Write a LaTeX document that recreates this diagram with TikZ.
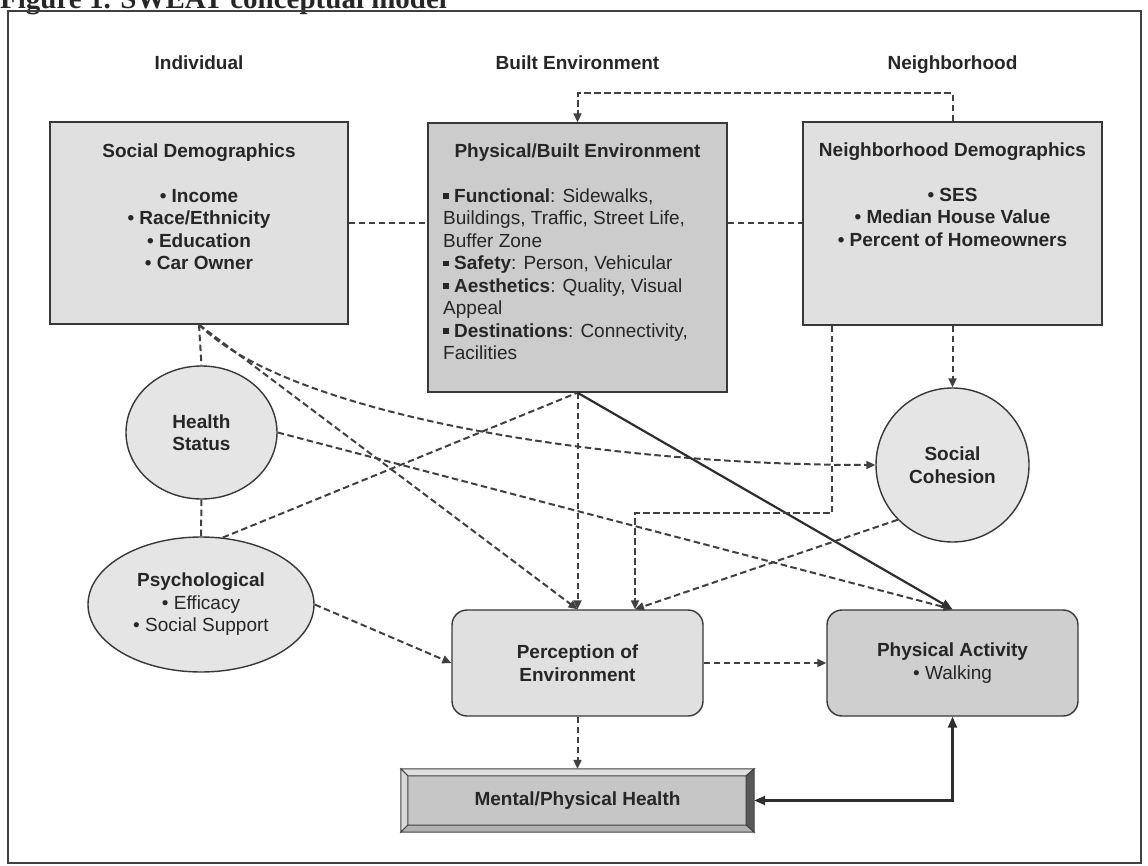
\documentclass[tikz,border=0pt]{standalone}
\usepackage{fontspec}
\setmainfont{Liberation Sans}
\newfontfamily\capfont{Liberation Serif}
\usetikzlibrary{arrows.meta,shapes.geometric}

\newcommand{\sqbul}{\rule[0.18em]{0.3em}{0.3em}}

\begin{document}
\begin{tikzpicture}[x=1pt,y=-1pt,
  every node/.style={text=black!85,font=\fontsize{19}{22.5}\selectfont},
  bold/.style={font=\fontsize{19}{22.5}\selectfont\bfseries},
  hdr/.style={bold,anchor=base},
  sqbox/.style={draw=black!78,line width=1.4pt,fill=gray!24,inner sep=0pt},
  boxtxt/.style={anchor=north,align=center,inner sep=0pt},
  oval/.style={ellipse,draw=black!78,line width=1.4pt,fill=gray!20,inner sep=0pt,align=center},
  rbox/.style={rectangle,rounded corners=15pt,draw=black!78,line width=1.4pt,fill=gray!24,inner sep=0pt,align=center,minimum width=251pt,minimum height=106pt},
  dline/.style={draw=black!75,line width=2pt,dash pattern=on 6.5pt off 3.5pt},
  darr/.style={dline,-{Triangle[length=9pt,width=8pt]}},
  sarr/.style={draw=black!82,line width=2.2pt,-{Triangle[length=11pt,width=9pt]}}
]
\useasboundingbox (0,0) rectangle (1148,866);

% caption and frame
\node[anchor=base west,inner sep=0pt,font=\fontsize{29}{33}\selectfont\capfont\bfseries] (capt) at (0,9) {Figure 1. SWEAT conceptual model};
\draw[draw=black!75,line width=1.2pt] (8,11) rectangle (1141,863);

% column headers
\node[hdr] (hind) at (199,70) {Individual};
\node[hdr] (hbuilt) at (577.5,70) {Built Environment};
\node[hdr] (hnbr) at (952.5,70) {Neighborhood};

% top row
\node[sqbox,minimum width=298pt,minimum height=202pt] (soc) at (199,223) {};
\node[boxtxt,bold] (soctxt) at (199,143.2) {Social Demographics\\[22.5pt]• Income\\• Race/Ethnicity\\• Education\\• Car Owner};

\node[sqbox,fill=gray!40,minimum width=299pt,minimum height=269pt] (bld) at (577.5,257.5) {};
\node[boxtxt,bold] (bldttl) at (577.5,143.2) {Physical/Built Environment};
\node[boxtxt,anchor=north west,align=left] (bldlst) at (443,188.2) {\sqbul\ \textbf{Functional}: Sidewalks,\\Buildings, Traffic, Street Life,\\Buffer Zone\\\sqbul\ \textbf{Safety}: Person, Vehicular\\\sqbul\ \textbf{Aesthetics}: Quality, Visual\\Appeal\\\sqbul\ \textbf{Destinations}: Connectivity,\\Facilities};

\node[sqbox,minimum width=299pt,minimum height=203pt] (nbr) at (952.5,223.5) {};
\node[boxtxt,bold] (nbrtxt) at (952.5,142.2) {Neighborhood Demographics\\[22.5pt]• SES\\• Median House Value\\• Percent of Homeowners};

% ovals
\node[oval,bold,minimum width=151pt,minimum height=133pt] (hlth) at (201.5,432.5) {Health\\Status};
\node[oval,minimum width=226pt,minimum height=135pt] (psy) at (201,604.5) {\textbf{Psychological}\\• Efficacy\\• Social Support};
\node[oval,bold,minimum width=153pt,minimum height=154pt] (scoh) at (952.5,465) {Social\\Cohesion};

% outcomes
\node[rbox,bold] (perc) at (577.5,663) {Perception of\\Environment};
\node[rbox,fill=gray!38] (pa) at (952.5,663) {\textbf{Physical Activity}\\• Walking};
\node[rectangle,bold,fill=gray!45,inner sep=0pt,minimum width=353pt,minimum height=63pt] (mnt) at (577.5,800.5) {Mental/Physical Health};
\filldraw[fill=gray!25,draw=black!75,line width=1pt] (mnt.north west) -- (mnt.north east) -- ([shift={(-8,7)}]mnt.north east) -- ([shift={(7,7)}]mnt.north west) -- cycle;
\filldraw[fill=gray!30,draw=black!75,line width=1pt] (mnt.north west) -- ([shift={(7,7)}]mnt.north west) -- ([shift={(7,-7)}]mnt.south west) -- (mnt.south west) -- cycle;
\filldraw[fill=black!65,draw=black!75,line width=1pt] (mnt.north east) -- (mnt.south east) -- ([shift={(-8,-7)}]mnt.south east) -- ([shift={(-8,7)}]mnt.north east) -- cycle;
\filldraw[fill=gray!60,draw=black!75,line width=1pt] (mnt.south west) -- ([shift={(7,-7)}]mnt.south west) -- ([shift={(-8,-7)}]mnt.south east) -- (mnt.south east) -- cycle;

% links between the three columns
\draw[dline] (soc.east) -- (soc.east -| bld.west);
\draw[dline] (nbr.west -| bld.east) -- (nbr.west);
\draw[darr] (nbr.north) -- ++(0,-28) -| (bld.north);

% individual side
\draw[dline] (soc.south) -- (hlth.north);
\draw[dline] (hlth.south) -- (psy.north);
\draw[darr] (soc.south) .. controls (290,415) and (600,465) .. (scoh.west);
\draw[darr] (soc.south) -- (perc.north);
\draw[darr] (hlth.east) -- (pa.north);
\draw[dline] (psy.72) -- (bld.south);
\draw[darr] (psy.east) -- (perc.west);

% built environment and neighborhood
\draw[darr] (bld.south) -- (perc.north);
\draw[sarr] (bld.south) -- (pa.north);
\draw[darr] (nbr.south) -- (scoh.north);
\coordinate (elb) at (635,513);
\draw[darr] ([xshift=30pt]nbr.south west) |- (elb) -- (elb |- perc.north);
\draw[darr] (scoh.225) -- (elb |- perc.north);

% outcomes
\draw[darr] (perc.east) -- (pa.west);
\draw[darr] (perc.south) -- (mnt.north);
\draw[draw=black!82,line width=2.2pt,{Triangle[length=11pt,width=9pt]}-{Triangle[length=11pt,width=9pt]}] (pa.south) |- (mnt.east);
\end{tikzpicture}
\end{document}
